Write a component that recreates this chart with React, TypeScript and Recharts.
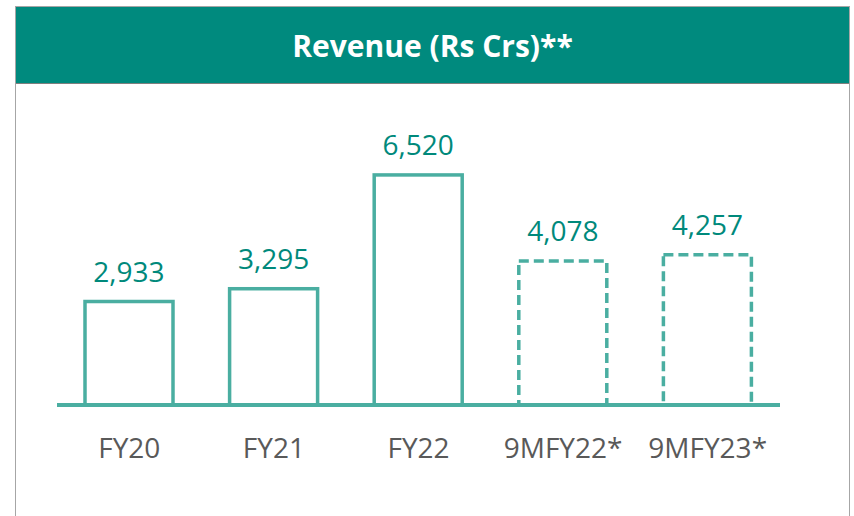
import { BarChart, Bar, XAxis, YAxis, LabelList } from 'recharts';

// values
const periods = ['FY20', 'FY21', 'FY22', '9MFY22*', '9MFY23*'];
const revenue = [2933, 3295, 6520, 4078, 4257];
const isNineMonth = [false, false, false, true, true];

const data = periods.map((p, i) => ({ period: p, revenue: revenue[i], partial: isNineMonth[i] }));

const TEAL = '#00897B';
const BAR_LINE = '#4AAEA1';
const FONT = '"Open Sans", "Liberation Sans", sans-serif';

const OutlineBar = (props: any) => {
    const { x, y, width, height, payload } = props;
    return (
        <rect
            x={x}
            y={y}
            width={width}
            height={height}
            fill="#ffffff"
            stroke={BAR_LINE}
            strokeWidth={3.5}
            strokeDasharray={payload.partial ? '10 5' : undefined}
        />
    );
};

const fmt = (v: any) => Number(v).toLocaleString('en-US');

export default function App() {
    return (
        <div style={{ position: 'absolute', left: 0, top: 0, width: 854, height: 516, background: '#fff', overflow: 'hidden' }}>
            {/* outer frame */}
            <div
                style={{
                    position: 'absolute',
                    left: 15,
                    top: 6,
                    width: 835,
                    height: 530,
                    border: '1px solid #A6A6A6',
                    boxSizing: 'border-box'
                }}
            />
            {/* header band */}
            <div
                style={{
                    position: 'absolute',
                    left: 16,
                    top: 7,
                    width: 833,
                    height: 76,
                    background: '#008A7E',
                    borderBottom: '1px solid #7F7F7F',
                    color: '#fff',
                    fontFamily: FONT,
                    fontWeight: 700,
                    fontSize: 30,
                    display: 'flex',
                    alignItems: 'center',
                    justifyContent: 'center'
                }}
            >
                Revenue (Rs Crs)**
            </div>

            <div style={{ position: 'absolute', left: 0, top: 0 }}>
                <BarChart
                    width={854}
                    height={516}
                    data={data}
                    margin={{ top: 158, right: 74, left: 57, bottom: 51 }}
                >
                    <XAxis
                        dataKey="period"
                        height={60}
                        axisLine={{ stroke: BAR_LINE, strokeWidth: 4 }}
                        tickLine={false}
                        tick={{ fill: '#595959', fontSize: 28, fontFamily: FONT }}
                        dy={25}
                    />
                    <YAxis hide domain={[0, 7000]} />
                    <Bar dataKey="revenue" barSize={88} shape={<OutlineBar />} isAnimationActive={false}>
                        <LabelList
                            dataKey="revenue"
                            position="top"
                            offset={20}
                            formatter={fmt}
                            style={{ fill: TEAL, fontSize: 28, fontFamily: FONT }}
                        />
                    </Bar>
                </BarChart>
            </div>
        </div>
    );
}
